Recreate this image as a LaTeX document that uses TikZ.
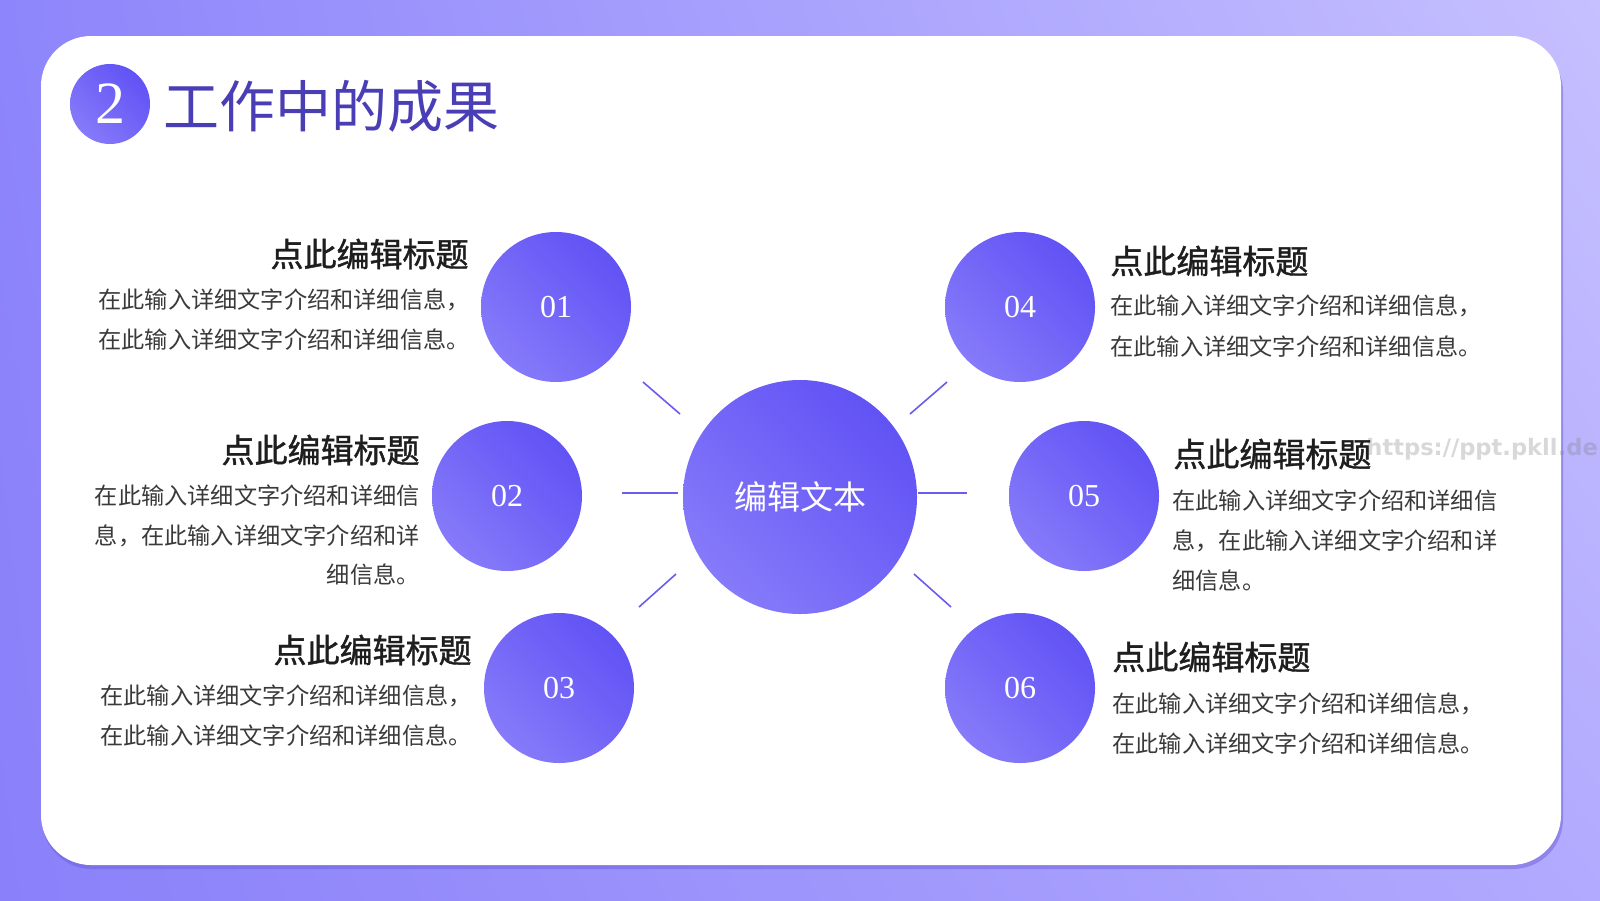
\documentclass[tikz,border=0pt]{standalone}
\usepackage{fontspec}
\setmainfont{Liberation Serif}
\newfontfamily\cjk{Noto Sans CJK SC}
\newfontfamily\cjkmed[FakeBold=1.2]{Noto Sans CJK SC}
\newfontfamily\wmfont{DejaVu Sans}
\usetikzlibrary{shadings}
\definecolor{bgUL}{HTML}{8D85FB}
\definecolor{bgUR}{HTML}{C6C0FF}
\definecolor{bgLL}{HTML}{8A80FA}
\definecolor{bgLR}{HTML}{B2AAFE}
\definecolor{cA}{HTML}{5A4AF4}
\definecolor{cB}{HTML}{8E83FB}
\definecolor{cM}{HTML}{7366F7}
\definecolor{lineC}{HTML}{6B5CF0}
\definecolor{headC}{HTML}{4A3EB6}
\definecolor{titleC}{HTML}{1E1E1E}
\definecolor{bodyC}{HTML}{3A3A3A}
\definecolor{shadowC}{HTML}{6C60DA}
\begin{document}
\begin{tikzpicture}[x=0.5pt,y=-0.5pt]
\tikzset{
  bubble/.style={circle, minimum size=75pt, inner sep=0pt, shade,
    upper right=cA, lower left=cB, upper left=cM, lower right=cM,
    text=white, font=\fontsize{16}{16}\selectfont},
  tickline/.style={draw=lineC, line width=0.8pt},
  ttl/.style={inner sep=0pt, text=titleC, font=\cjkmed\fontsize{16.5}{18}\selectfont},
  body/.style={inner sep=0pt, text=bodyC, font=\cjk\fontsize{11.6}{14}\selectfont},
}
\useasboundingbox (0,0) rectangle (1600,900);
% background
\shade[upper left=bgUL, upper right=bgUR, lower left=bgLL, lower right=bgLR] (0,0) rectangle (1600,900);
% card
\fill[shadowC, opacity=0.5, rounded corners=25pt] (42,42) rectangle (1563,869);
\fill[white, rounded corners=25pt] (41,36) rectangle (1561,865);
% heading
\node[bubble, minimum size=40pt, font=\fontsize{30}{30}\selectfont] (hnum) at (110,104) {2};
\node[anchor=west, inner sep=0pt, text=headC, font=\cjk\fontsize{28}{30}\selectfont] (head) at (163,106) {工作中的成果};
% watermark
\node[anchor=west, inner sep=0pt, text=gray, opacity=0.3, font=\wmfont\bfseries\fontsize{11.3}{12}\selectfont] (wm) at (1366,449) {https://ppt.pkll.de};
% centre and bubbles
\node[bubble, minimum size=117pt, font=\cjk\fontsize{16.5}{18}\selectfont] (c) at (800,497) {编辑文本};
\node[bubble] (n1) at (556,307) {01};
\node[bubble] (n2) at (507,496) {02};
\node[bubble] (n3) at (559,688) {03};
\node[bubble] (n4) at (1020,307) {04};
\node[bubble] (n5) at (1084,496) {05};
\node[bubble] (n6) at (1020,688) {06};
% tick connectors
\coordinate (t1a) at (643,382); \coordinate (t1b) at (680,414);
\coordinate (t2a) at (622,493); \coordinate (t2b) at (678,493);
\coordinate (t3a) at (639,607); \coordinate (t3b) at (676,574);
\coordinate (t4a) at (910,414); \coordinate (t4b) at (947,382);
\coordinate (t5a) at (918,493); \coordinate (t5b) at (967,493);
\coordinate (t6a) at (914,574); \coordinate (t6b) at (951,607);
\draw[tickline] (t1a) -- (t1b);
\draw[tickline] (t2a) -- (t2b);
\draw[tickline] (t3a) -- (t3b);
\draw[tickline] (t4a) -- (t4b);
\draw[tickline] (t5a) -- (t5b);
\draw[tickline] (t6a) -- (t6b);
% block 1
\node[ttl, anchor=east] (h1) at (469,254) {点此编辑标题};
\node[body, anchor=west] (b1a) at (98,300) {在此输入详细文字介绍和详细信息，};
\node[body, anchor=west] (b1b) at (98,340) {在此输入详细文字介绍和详细信息。};
% block 2
\node[ttl, anchor=east] (h2) at (420,450) {点此编辑标题};
\node[body, anchor=east] (b2a) at (420,496) {在此输入详细文字介绍和详细信};
\node[body, anchor=east] (b2b) at (420,536) {息，在此输入详细文字介绍和详};
\node[body, anchor=east] (b2c) at (420,575) {细信息。};
% block 3
\node[ttl, anchor=east] (h3) at (472,650) {点此编辑标题};
\node[body, anchor=west] (b3a) at (100,696) {在此输入详细文字介绍和详细信息，};
\node[body, anchor=west] (b3b) at (100,736) {在此输入详细文字介绍和详细信息。};
% block 4
\node[ttl, anchor=west] (h4) at (1110,261) {点此编辑标题};
\node[body, anchor=west] (b4a) at (1110,306) {在此输入详细文字介绍和详细信息，};
\node[body, anchor=west] (b4b) at (1110,347) {在此输入详细文字介绍和详细信息。};
% block 5
\node[ttl, anchor=west] (h5) at (1173,454) {点此编辑标题};
\node[body, anchor=west] (b5a) at (1172,501) {在此输入详细文字介绍和详细信};
\node[body, anchor=west] (b5b) at (1172,541) {息，在此输入详细文字介绍和详};
\node[body, anchor=west] (b5c) at (1172,581) {细信息。};
% block 6
\node[ttl, anchor=west] (h6) at (1112,657) {点此编辑标题};
\node[body, anchor=west] (b6a) at (1112,704) {在此输入详细文字介绍和详细信息，};
\node[body, anchor=west] (b6b) at (1112,744) {在此输入详细文字介绍和详细信息。};
\end{tikzpicture}
\end{document}
